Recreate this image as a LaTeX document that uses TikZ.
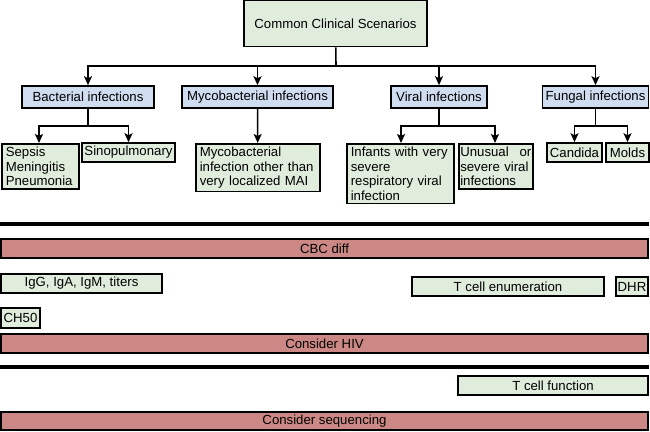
\documentclass[tikz,border=0pt]{standalone}
\usepackage{fontspec}
\setmainfont{Liberation Sans}
\usepackage{xcolor}
\usepackage{tikz}
\usetikzlibrary{arrows.meta, positioning, calc}

\definecolor{leafgreen}{HTML}{E0EDDC}
\definecolor{groupblue}{HTML}{D0DDF0}
\definecolor{testred}{HTML}{CC8884}

\begin{document}
\begin{tikzpicture}[x=1pt, y=-1pt,
  box/.style={draw, line width=1.6pt, fill=#1, inner sep=0pt,
    font=\fontsize{13.2}{14.7}\selectfont},
  scen/.style={box=leafgreen, align=left, anchor=north west,
    text width=#1, inner xsep=4pt, inner ysep=3pt},
  bar/.style={box=testred, minimum width=647pt, minimum height=19pt},
  test/.style={box=leafgreen, minimum height=19pt},
  rule/.style={line width=4.5pt},
  arrow/.style={-{Stealth[length=9pt, width=8pt, inset=2pt]}, line width=1.6pt},
  link/.style={line width=1.6pt},
]
\useasboundingbox (0,0) rectangle (650,431);

% scenario tree
\node[box=leafgreen, minimum width=183pt, minimum height=46pt] (common) at (335.5,23.5)
  {Common Clinical Scenarios};
\node[box=groupblue, minimum width=132pt, minimum height=22pt] (bact) at (88,97) {Bacterial infections};
\node[box=groupblue, minimum width=151pt, minimum height=22pt] (myco) at (257.5,97) {Mycobacterial infections};
\node[box=groupblue, minimum width=96pt, minimum height=22pt] (viral) at (439,97) {Viral infections};
\node[box=groupblue, minimum width=106pt, minimum height=22pt] (fungal) at (595.5,97) {Fungal infections};

\node[scen=69pt] (sepsis) at (1,143) {Sepsis\\Meningitis\\Pneumonia};
\node[box=leafgreen, minimum width=93pt, minimum height=19pt] (sino) at (128.5,152.5) {Sinopulmonary};
\node[scen=116pt] (mycoinf) at (195,143) {Mycobacterial\\infection other than\\very localized MAI};
\node[scen=99pt] (infants) at (346,143)
  {Infants with very\\severe\\respiratory viral\\infection};
\node[scen=71pt, inner xsep=1.5pt] (unusual) at (458,143)
  {Unusual\hfill or\\\mbox{severe viral}\\infections};
\node[box=leafgreen, minimum width=55pt, minimum height=19pt] (candida) at (574.5,152.5) {Candida};
\node[box=leafgreen, minimum width=43pt, minimum height=19pt] (molds) at (627.5,152.5) {Molds};

\coordinate (top) at (336,66);
\coordinate (bsplit) at (88,126);
\coordinate (vsplit) at (439,126);
\coordinate (fsplit) at (595.5,126);

\draw[link] (common) -- (top);
\draw[link] (88,66) -- (595.5,66);
\draw[arrow] (top) -| (bact);
\draw[arrow] (top) -| (myco);
\draw[arrow] (top) -| (viral);
\draw[arrow] (top) -| (fungal);

\draw[link] (bact) -- (bsplit);
\draw[arrow] (bsplit) -| (39,143);
\draw[arrow] (bsplit) -| (sino);
\draw[arrow] (myco) -- (mycoinf);
\draw[link] (viral) -- (vsplit);
\draw[arrow] (vsplit) -| (401,143);
\draw[arrow] (vsplit) -| (495,143);
\draw[link] (fungal) -- (fsplit);
\draw[arrow] (fsplit) -| (candida);
\draw[arrow] (fsplit) -| (molds);

% evaluation
\draw[rule] (0,224) -- (649,224);
\node[bar] (cbc) at (324.5,248.5) {CBC diff};
\node[test, minimum width=161pt] (igg) at (81.5,283.5) {IgG, IgA, IgM, titers};
\node[test, minimum width=192pt] (tenum) at (508,286.5) {T cell enumeration};
\node[test, minimum width=32pt] (dhr) at (632,286.5) {DHR};
\node[test, minimum width=39pt, minimum height=20pt] (ch50) at (20.5,318) {CH50};
\node[bar] (hiv) at (324.5,343.5) {Consider HIV};
\draw[rule] (0,367) -- (649,367);
\node[test, minimum width=190pt] (tfunc) at (553,385.5) {T cell function};
\node[bar, minimum height=18pt] (seq) at (324.5,421) {Consider sequencing};
\end{tikzpicture}
\end{document}
